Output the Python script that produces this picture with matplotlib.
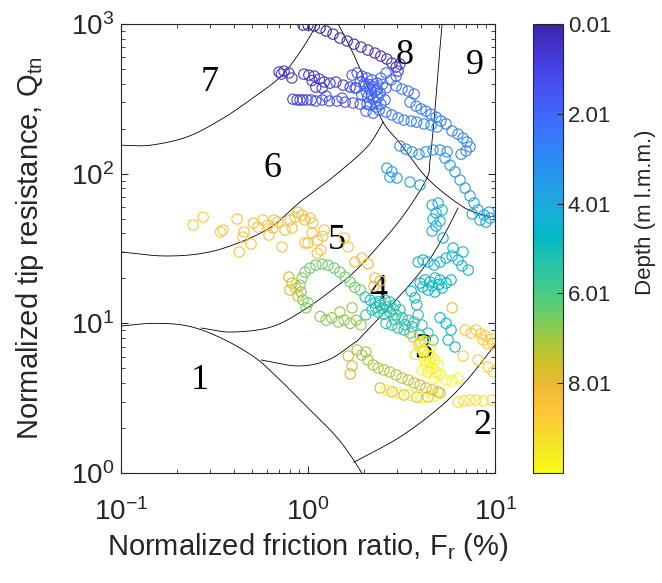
import numpy as np
import matplotlib
matplotlib.use('Agg')
import matplotlib.pyplot as plt
from matplotlib.colors import LinearSegmentedColormap, Normalize
import matplotlib.cm as cm

plt.rcParams['font.family'] = ['Liberation Sans', 'DejaVu Sans']
plt.rcParams['mathtext.fontset'] = 'custom'
plt.rcParams['mathtext.rm'] = 'Liberation Sans'
plt.rcParams['mathtext.it'] = 'Liberation Sans'
plt.rcParams['axes.unicode_minus'] = False

# ---- zone boundaries (Robertson 1990 chart) ----
b_a_fr = [0.1, 0.143, 0.225, 0.338, 0.49, 0.709, 0.906, 1.12]
b_a_q = [155, 155, 176, 228, 311, 442, 650, 1000]
b_b_fr = [1.45, 1.74, 2.09, 2.52, 3.10, 4.33, 6.5, 8.31, 10.0]
b_b_q = [1000, 640, 379, 221, 160, 93.5, 61.8, 53.8, 51.3]
b_d_fr = [0.1, 0.170, 0.278, 0.422, 0.634, 0.906, 1.36, 2.07, 2.52]
b_d_q = [30.0, 28.2, 29.5, 34.4, 44.0, 64.7, 95.0, 151, 221]
b_e_fr = [0.268, 0.388, 0.634, 0.952, 1.45, 1.92, 3.10, 4.27, 4.49, 4.77, 4.96, 5.21]
b_e_q = [9.31, 8.75, 9.45, 12.3, 18.0, 24.5, 49.0, 90.7, 123, 266, 493, 1000]
b_f_fr = [0.561, 0.884, 1.28, 1.76, 1.92, 3.30, 4.33, 5.27, 6.34]
b_f_q = [5.69, 5.19, 5.69, 7.39, 8.11, 16.7, 25.3, 37.7, 59.0]
b_1_fr = [0.1, 0.150, 0.228, 0.343, 0.515, 0.691, 0.940, 1.36, 1.64, 1.94]
b_1_q = [9.6, 10.0, 9.6, 7.98, 5.96, 4.31, 2.94, 1.85, 1.38, 1.0]
b_2_fr = [1.76, 3.10, 5.08, 7.08, 10.0]
b_2_q = [1.18, 1.74, 2.76, 4.18, 7.17]

zone_labels = ['1', '2', '3', '4', '5', '6', '7', '8', '9']
zone_fr = [0.265, 8.52, 4.12, 2.37, 1.43, 0.642, 0.299, 3.30, 7.82]
zone_q = [4.18, 2.09, 6.64, 16.7, 36.0, 109, 410, 621, 532]

# ---- CPT points: normalized friction ratio, tip resistance, depth ----
arc_fr = [0.94, 1.00, 1.08, 1.16, 1.25, 1.36, 1.48, 1.62, 1.76, 1.92, 2.09, 2.28,
          2.45, 2.64, 2.81, 2.96, 3.03, 3.10]
arc_q = [984, 984, 970, 940, 898, 857, 806, 770, 734, 702, 670, 640,
         611, 584, 549, 516, 485, 541]
arc_d = [0.02, 0.05, 0.08, 0.1, 0.12, 0.15, 0.18, 0.2, 0.23, 0.25, 0.28, 0.3,
         0.33, 0.36, 0.4, 0.43, 0.46, 0.5]

row2_fr = [0.70, 0.744, 0.79, 0.82, 0.95, 1.01, 1.08, 1.15, 1.22, 1.10, 1.19, 1.31,
           1.41, 1.54, 1.68, 1.81, 0.72, 1.05]
row2_q = [478, 485, 471, 436, 463, 456, 449, 429, 410, 379, 374, 403,
          410, 391, 379, 374, 463, 420]
row2_d = [0.52, 0.54, 0.56, 0.58, 0.6, 0.62, 0.64, 0.66, 0.68, 0.7, 0.72, 0.74,
          0.76, 0.78, 0.8, 0.82, 0.84, 0.86]

row3_fr = [0.83, 0.873, 0.906, 0.94, 0.988, 1.04, 1.10, 1.19, 1.30, 1.43, 1.58, 1.74,
           1.90, 2.07, 1.25, 1.52]
row3_q = [315, 311, 311, 311, 311, 311, 306, 311, 306, 306, 301, 297, 292, 292, 330, 320]
row3_d = [1.1, 1.13, 1.16, 1.19, 1.22, 1.25, 1.28, 1.31, 1.34, 1.37, 1.4, 1.43,
          1.46, 1.5, 1.52, 1.55]

clus_fr = [1.72, 1.83, 1.94, 2.07, 2.20, 2.34, 1.90, 2.02, 2.15, 2.28, 2.43, 1.94,
           2.09, 2.23, 2.37, 2.15, 2.31, 2.45, 2.04, 2.23, 2.40, 2.58, 2.61, 2.45,
           2.78, 2.61, 2.96, 1.78, 2.0, 2.12, 2.25, 2.35, 2.05, 2.18, 2.3, 2.5]
clus_q = [456, 471, 449, 436, 423, 403, 410, 385, 368, 357, 346, 335,
          325, 315, 325, 288, 279, 292, 262, 254, 266, 311, 374, 436,
          423, 471, 449, 374, 400, 395, 380, 365, 350, 340, 300, 395]
clus_d = [1.6, 1.62, 1.65, 1.68, 1.7, 1.72, 1.75, 1.78, 1.8, 1.83, 1.85, 1.88,
          1.9, 1.93, 1.95, 1.98, 2.0, 2.03, 2.05, 2.08, 2.1, 2.13, 2.15, 2.18,
          2.2, 2.22, 2.25, 2.28, 1.7, 1.8, 1.9, 2.0, 2.1, 2.2, 2.3, 2.35]

trail1_fr = [2.96, 3.18, 3.43, 3.69, 3.51, 3.78, 4.02, 4.27, 4.55, 4.84, 5.14, 5.47,
             5.89, 6.34, 6.74, 7.08, 7.35, 7.0, 6.58]
trail1_q = [385, 368, 357, 341, 301, 283, 271, 262, 250, 239, 225, 215,
            193, 184, 173, 163, 151, 142, 135]
trail1_d = [2.3, 2.33, 2.36, 2.4, 2.43, 2.46, 2.5, 2.53, 2.56, 2.6, 2.63, 2.66,
            2.7, 2.73, 2.76, 2.8, 2.83, 2.86, 2.9]

trail2_fr = [2.61, 2.81, 3.03, 3.26, 3.56, 3.81, 4.17, 4.55, 4.90]
trail2_q = [258, 247, 236, 228, 225, 221, 215, 211, 205]
trail2_d = [2.5, 2.56, 2.62, 2.68, 2.74, 2.8, 2.86, 2.92, 3.0]

low_fr = [3.10, 3.34, 3.60, 3.92, 4.27, 4.66, 5.08, 5.54, 2.64, 2.81, 2.74, 2.99,
          3.51, 3.97]
low_q = [153, 146, 140, 135, 140, 144, 144, 140, 109, 103, 95, 93.6, 88, 84]
low_d = [3.1, 3.13, 3.16, 3.2, 3.23, 3.26, 3.3, 3.33, 3.5, 3.53, 3.56, 3.6,
         3.65, 3.7]

right_fr = [5.40, 5.75, 6.11, 6.50, 6.91, 7.35, 7.72, 7.55, 8.11, 8.73, 9.29, 8.31,
            8.95, 9.40]
right_q = [127, 114, 103, 90.7, 80.2, 71, 63.7, 53.8, 57.2, 52.9, 55.4, 49,
           47.5, 50.5]
right_d = [3.4, 3.45, 3.5, 3.55, 3.6, 3.65, 3.7, 3.75, 3.8, 3.85, 3.9, 3.93,
           3.96, 4.0]

cyan1_fr = [4.61, 4.96, 5.21, 4.84, 4.66, 5.08, 4.84, 4.61, 5.27, 5.96]
cyan1_q = [61.8, 63.7, 57.2, 54.6, 49.8, 48.3, 44.7, 41.4, 37.2, 31.9]
cyan1_d = [4.05, 4.07, 4.09, 4.11, 4.13, 4.15, 4.17, 4.19, 4.22, 4.25]

cyan2_fr = [3.88, 4.12, 4.38, 4.72, 5.08, 5.47, 5.89, 6.34, 6.66, 7.19, 6.74]
cyan2_q = [25.7, 26.5, 25.7, 24.5, 25.7, 27.3, 28.2, 26.5, 24.2, 22.7, 30.0]
cyan2_d = [4.3, 4.32, 4.34, 4.36, 4.38, 4.4, 4.42, 4.44, 4.46, 4.48, 4.5]

cyan3_fr = [3.97, 4.22, 4.49, 4.77, 5.08, 5.47, 5.82, 4.38, 4.77, 5.21, 3.56, 3.73,
            3.81, 5.08, 5.47, 5.82, 5.61, 6.11, 4.1, 4.6, 5.0]
cyan3_q = [18.6, 19.5, 18.9, 20.1, 19.5, 18.6, 19.5, 16.7, 16.2, 17.2, 16.4, 14.8,
           13.3, 10.9, 10.0, 9.03, 7.74, 6.95, 17.5, 17.8, 18.2]
cyan3_d = [4.52, 4.54, 4.56, 4.58, 4.6, 4.62, 4.64, 4.66, 4.68, 4.7, 4.72, 4.74,
           4.76, 4.85, 4.88, 4.91, 4.94, 4.97, 4.6, 4.65, 4.7]

teal_fr = [2.02, 2.15, 2.28, 2.43, 2.58, 2.74, 2.92, 2.20, 2.37, 2.55, 2.74, 2.96,
           3.18, 3.43, 3.69, 2.61, 2.81, 3.03, 3.26, 3.51, 2.04, 3.10, 3.88, 4.07,
           4.38, 4.66, 3.97, 2.3, 2.5, 2.65, 2.85, 3.3, 3.6, 2.4, 2.9]
teal_q = [15.0, 14.3, 13.7, 13.3, 14.3, 13.9, 13.3, 12.3, 11.9, 11.5, 11.9, 11.4,
          10.9, 10.5, 10.2, 10.0, 9.75, 9.31, 9.03, 8.61, 11.4, 12.3, 11.4, 9.75,
          8.61, 7.74, 8.36, 12.8, 12.6, 12.9, 12.5, 9.8, 9.5, 14.0, 10.6]
teal_d = [5.0, 5.02, 5.04, 5.06, 5.08, 5.1, 5.12, 5.14, 5.16, 5.18, 5.2, 5.22,
          5.24, 5.26, 5.28, 5.3, 5.32, 5.34, 5.36, 5.38, 5.4, 5.43, 5.46, 5.5,
          5.53, 5.56, 5.6, 5.1, 5.15, 5.2, 5.25, 5.3, 5.35, 5.4, 5.45]

green_fr = [0.94, 0.917, 0.906, 0.929, 0.963, 1.025, 1.10, 1.19, 1.28, 1.38, 1.48, 1.58,
            1.68, 1.78, 1.90, 1.00, 0.975, 1.16, 1.25, 1.34, 1.45, 1.56, 1.68, 1.81,
            1.92]
green_q = [14.3, 16.2, 18.0, 20.1, 22.0, 23.4, 24.5, 24.9, 24.5, 23.4, 22.0, 20.4,
           18.9, 17.4, 16.7, 13.7, 12.7, 11.1, 10.5, 10.9, 10.2, 10.5, 10.0, 10.5,
           9.75]
green_d = [6.6, 6.58, 6.56, 6.54, 6.52, 6.5, 6.48, 6.46, 6.44, 6.42, 6.4, 6.42,
           6.44, 6.46, 6.48, 6.62, 6.64, 6.7, 6.72, 6.74, 6.76, 6.78, 6.8, 6.82,
           6.85]

olive_fr = [0.79, 0.82, 0.80, 0.86, 0.884, 1.94, 2.09, 2.23, 2.37, 2.55, 2.74, 2.96,
            3.18, 3.43, 3.69, 3.97, 4.27, 4.61, 4.96, 1.83, 2.04, 1.48, 1.72, 1.64,
            1.72, 1.68]
olive_q = [20.4, 18.6, 16.7, 17.2, 15.2, 6.14, 5.69, 5.27, 5.03, 4.88, 4.73, 4.52,
           4.31, 4.18, 3.99, 3.87, 3.70, 3.59, 3.48, 6.64, 6.43, 11.9, 12.7, 6.05,
           5.19, 4.59]
olive_d = [7.6, 7.62, 7.64, 7.66, 7.68, 7.0, 7.05, 7.1, 7.15, 7.2, 7.25, 7.3,
           7.35, 7.4, 7.45, 7.5, 7.55, 7.6, 7.65, 7.02, 7.04, 6.95, 6.97, 7.5,
           7.55, 7.6]

gold_fr = [2.43, 2.61, 2.81, 3.03, 3.26, 3.51, 3.81, 4.07, 4.38, 4.72, 5.08,
           2.28, 2.43, 2.25, 1.78, 1.94, 2.09, 5.89, 3.64, 3.97]
gold_q = [3.70, 3.59, 3.48, 3.42, 3.32, 3.32, 3.22, 3.17, 3.22, 3.27, 3.42,
          20.1, 19.2, 17.7, 25.7, 27.3, 25.0, 12.7, 8.11, 7.50]
gold_d = [7.7, 9.9, 7.75, 9.85, 7.8, 9.8, 7.7, 9.9, 7.75, 9.85, 7.8,
          8.1, 8.12, 8.14, 8.16, 8.18, 8.2, 8.22, 8.25, 8.28]

band_fr = [0.243, 0.275, 0.351, 0.417, 0.428, 0.455, 0.448, 0.496, 0.51, 0.54, 0.574, 0.611,
           0.658, 0.650, 0.618, 0.726, 0.753, 0.801, 0.852, 0.884, 0.929, 0.963, 1.025, 1.06,
           1.05, 1.12, 0.963, 1.12, 1.0, 1.17, 1.22, 1.20, 1.56, 0.34, 0.821, 0.691,
           1.64]
band_q = [45.4, 51.3, 42.0, 49.8, 30.0, 40.8, 37.7, 33.9, 46.8, 44.0, 49.0, 45.4,
          49.0, 43.4, 38.9, 32.4, 42.0, 49.0, 51.3, 55.4, 52.9, 49.0, 50.5, 46.8,
          40.2, 36.0, 34.4, 29.5, 34.4, 30.9, 42.0, 38.3, 37.2, 40.8, 43.4, 47.5,
          32.4]
band_d = [8.7, 8.68, 8.66, 8.64, 8.62, 8.6, 8.58, 8.56, 8.54, 8.52, 8.5, 8.48,
          8.46, 8.44, 8.42, 8.4, 8.38, 8.36, 8.34, 8.32, 8.3, 8.32, 8.34, 8.36,
          8.38, 8.4, 8.42, 8.44, 8.46, 8.48, 8.5, 8.52, 8.54, 8.66, 8.4, 8.45,
          8.56]

edge_fr = [6.91, 7.44, 7.91, 8.42, 8.95, 9.52, 9.18, 9.76, 8.63, 6.74, 8.11, 9.18,
           9.76, 6.34, 6.82, 7.35, 7.91, 8.63, 9.64]
edge_q = [9.03, 8.61, 9.03, 8.49, 8.23, 7.86, 7.28, 7.28, 7.74, 6.05, 5.69, 5.11,
          4.73, 2.98, 3.03, 3.07, 3.07, 3.03, 3.07]
edge_d = [8.6, 8.62, 8.64, 8.66, 8.68, 8.7, 8.72, 8.74, 8.76, 8.78, 8.8, 8.82,
          8.84, 9.2, 9.22, 9.24, 9.26, 9.28, 9.3]

yel_fr = [3.97, 4.17, 4.38, 4.22, 4.49, 4.77, 4.61, 4.38, 4.84, 5.08, 4.72, 4.27,
          4.07, 4.96, 5.47, 5.89, 6.34, 4.12, 4.55, 3.9, 4.2, 4.5, 3.75]
yel_q = [6.84, 6.43, 6.14, 5.69, 5.52, 5.69, 5.03, 4.73, 4.73, 4.52, 4.31, 5.27,
         4.88, 5.27, 4.18, 4.12, 4.31, 6.6, 6.0, 7.3, 7.6, 7.0, 6.2]
yel_d = [9.7, 9.72, 9.74, 9.76, 9.78, 9.8, 9.82, 9.84, 9.86, 9.88, 9.9, 9.92,
         9.94, 9.96, 9.98, 9.99, 10.0, 9.75, 9.8, 9.3, 9.4, 9.6, 9.5]

# MATLAB parula (R2014b) anchors
parula_rgb = [(0.2422, 0.1504, 0.6603), (0.2706, 0.2147, 0.8364), (0.2810, 0.3228, 0.9579),
              (0.2440, 0.4358, 0.9988), (0.1786, 0.5289, 0.9682), (0.1380, 0.6276, 0.8973),
              (0.0689, 0.6948, 0.8394), (0.0067, 0.7312, 0.7660), (0.1408, 0.7584, 0.6842),
              (0.2161, 0.7843, 0.5923), (0.3406, 0.8008, 0.4789), (0.5044, 0.7993, 0.3480),
              (0.6720, 0.7793, 0.2227), (0.8203, 0.7498, 0.1535), (0.9393, 0.7288, 0.2100),
              (0.9970, 0.7659, 0.2199), (0.9786, 0.8386, 0.1766), (0.9597, 0.9135, 0.1423),
              (0.9769, 0.9839, 0.0805)]
parula_pos = [0, 4, 9, 14, 18, 23, 27, 30, 33, 36, 39, 42, 45, 48, 51, 54, 57, 60, 63]
parula = LinearSegmentedColormap.from_list(
    'parula', [(p / 63.0, c) for p, c in zip(parula_pos, parula_rgb)])


def smooth(xs, ys, n=20):
    # catmull-rom through the read points, in log space
    P = np.column_stack([np.log10(xs), np.log10(ys)])
    P = np.vstack([2 * P[0] - P[1], P, 2 * P[-1] - P[-2]])
    t = np.linspace(0, 1, n, endpoint=False)[:, None]
    out = []
    for i in range(1, len(P) - 2):
        p0, p1, p2, p3 = P[i - 1], P[i], P[i + 1], P[i + 2]
        out.append(0.5 * (2 * p1 + (-p0 + p2) * t + (2 * p0 - 5 * p1 + 4 * p2 - p3) * t ** 2
                          + (-p0 + 3 * p1 - 3 * p2 + p3) * t ** 3))
    out.append(P[-2][None])
    pts = 10 ** np.vstack(out)
    return pts[:, 0], pts[:, 1]


fr = np.concatenate([arc_fr, row2_fr, row3_fr, clus_fr, trail1_fr, trail2_fr, low_fr, right_fr,
                     cyan1_fr, cyan2_fr, cyan3_fr, teal_fr, green_fr, olive_fr, gold_fr,
                     band_fr, edge_fr, yel_fr])
qtn = np.concatenate([arc_q, row2_q, row3_q, clus_q, trail1_q, trail2_q, low_q, right_q,
                      cyan1_q, cyan2_q, cyan3_q, teal_q, green_q, olive_q, gold_q,
                      band_q, edge_q, yel_q])
depth = np.concatenate([arc_d, row2_d, row3_d, clus_d, trail1_d, trail2_d, low_d, right_d,
                        cyan1_d, cyan2_d, cyan3_d, teal_d, green_d, olive_d, gold_d,
                        band_d, edge_d, yel_d])
order = np.argsort(depth)
fr, qtn, depth = fr[order], qtn[order], depth[order]

norm = Normalize(vmin=0.01, vmax=10.01)
colors = parula(norm(depth))

fig = plt.figure(figsize=(6.62, 5.83), dpi=100)
ax = fig.add_axes([0.1828, 0.1887, 0.565, 0.770])

for bx, by in [(b_a_fr, b_a_q), (b_b_fr, b_b_q), (b_d_fr, b_d_q), (b_e_fr, b_e_q),
               (b_f_fr, b_f_q), (b_1_fr, b_1_q), (b_2_fr, b_2_q)]:
    sx, sy = smooth(bx, by)
    ax.plot(sx, sy, color='k', lw=0.6, zorder=1)

for lab, x, y in zip(zone_labels, zone_fr, zone_q):
    ax.text(x, y, lab, fontsize=26, family='Liberation Serif', ha='center', va='center', zorder=1)

ax.scatter(fr, qtn, s=55, facecolors='none', edgecolors=colors, linewidths=0.8, zorder=2)

ax.set_xscale('log')
ax.set_yscale('log')
ax.set_xlim(0.1, 10)
ax.set_ylim(1, 1000)
ax.tick_params(which='both', direction='in', top=True, right=True, colors='0.15')
ax.tick_params(which='major', length=5, labelsize=20)
ax.tick_params(axis='x', which='major', pad=18)
ax.tick_params(axis='y', which='major', pad=5)
ax.tick_params(which='minor', length=3)
for sp in ax.spines.values():
    sp.set_color('0.15')
    sp.set_linewidth(0.8)
ax.set_xlabel('Normalized friction ratio, F$_r$ (%)', fontsize=21, color='0.15', labelpad=4)
ax.set_ylabel('Normalized tip resistance, Q$_{tn}$', fontsize=21, color='0.15', labelpad=18)

cax = fig.add_axes([0.805, 0.1887, 0.0453, 0.770])
sm = cm.ScalarMappable(norm=norm, cmap=parula)
cb = fig.colorbar(sm, cax=cax)
cb.set_ticks([0.01, 2.01, 4.01, 6.01, 8.01])
cb.set_ticklabels(['0.01', '2.01', '4.01', '6.01', '8.01'])
cax.invert_yaxis()
cax.tick_params(direction='in', length=4, labelsize=16, colors='0.15')
cb.outline.set_edgecolor('0.15')
cb.outline.set_linewidth(0.8)
cb.set_label('Depth (m l.m.m.)', fontsize=16, color='0.15')
cax.yaxis.set_label_coords(3.4, 0.58)

fig.savefig('out.png', dpi=100)
